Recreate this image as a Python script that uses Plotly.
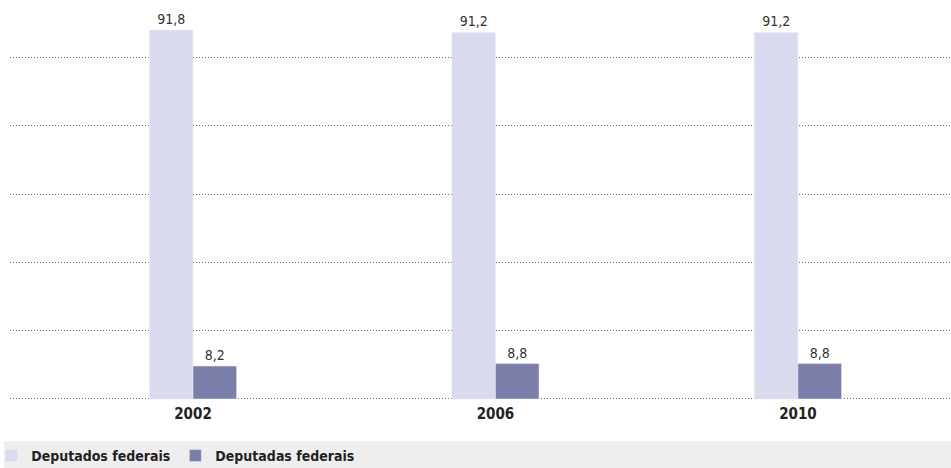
import plotly.graph_objects as go

years = ["2002", "2006", "2010"]
deputados = [91.8, 91.2, 91.2]
deputadas = [8.2, 8.8, 8.8]
series_names = ["Deputados federais", "Deputadas federais"]

FONT = "DejaVu Sans Condensed, Liberation Sans Narrow, sans-serif"
LIGHT = "#d9daee"
DARK = "#7c7eaa"

fig = go.Figure()
fig.add_trace(go.Bar(
    x=years, y=deputados, name=series_names[0], marker_color=LIGHT,
    texttemplate="%{y:.1f}", textposition="outside", cliponaxis=False,
    textfont=dict(size=14, color="#333333", family=FONT),
))
fig.add_trace(go.Bar(
    x=years, y=deputadas, name=series_names[1], marker_color=DARK,
    texttemplate="%{y:.1f}", textposition="outside", cliponaxis=False,
    textfont=dict(size=14, color="#333333", family=FONT),
))

# grey legend band
fig.add_shape(type="rect", xref="paper", yref="paper",
              x0=-0.0064, x1=1.0, y0=-0.18, y1=-0.0992,
              fillcolor="#eeeeee", line_width=0, layer="below")

fig.update_layout(
    width=951, height=468,
    margin=dict(l=10, r=0, t=20, b=65, autoexpand=False),
    paper_bgcolor="white", plot_bgcolor="white",
    separators=",.",
    barmode="group", bargap=0.712, bargroupgap=0,
    showlegend=True,
    legend=dict(orientation="h", x=-0.02, xanchor="left", y=-0.0966, yanchor="top",
                bgcolor="rgba(0,0,0,0)", font=dict(size=14, color="#222222", family=FONT, weight="bold"),
                traceorder="normal"),
    xaxis=dict(type="category", range=[-0.605, 2.506], showgrid=False, showline=False,
               automargin=False, ticks="",
               tickfont=dict(size=15, color="#222222", family=FONT, weight="bold")),
    yaxis=dict(range=[-1, 94.3], tick0=0, dtick=17, showticklabels=False, showgrid=True,
               automargin=False,
               gridcolor="#666666", griddash="1px,2px", gridwidth=1, zeroline=False, showline=False),
)

fig.write_html("out.html", config={"displayModeBar": False},
               post_script="document.body.style.margin='0';")
